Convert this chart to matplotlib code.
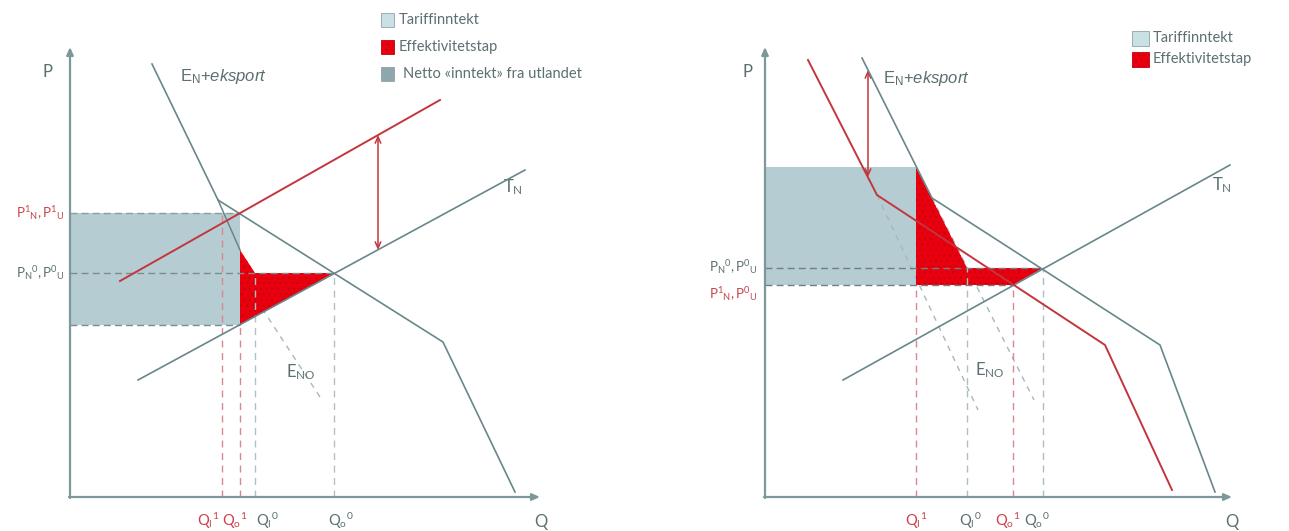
import matplotlib
matplotlib.use("Agg")
import matplotlib.pyplot as plt
from matplotlib.patches import Polygon, Rectangle

plt.rcParams['font.family'] = ['Lato', 'DejaVu Sans']
plt.rcParams['mathtext.fontset'] = 'custom'
plt.rcParams['mathtext.rm'] = 'Lato'
plt.rcParams['mathtext.it'] = 'Liberation Sans:italic'
plt.rcParams['mathtext.sf'] = 'Liberation Sans'
plt.rcParams['hatch.linewidth'] = 0.6

# --- left panel, Q and P (units from the axis corner) ---
L_en_q = [82, 148, 373, 445]
L_en_p = [433, 297, 155, 5]
L_eno_q = [148, 170]
L_eno_p = [297, 247]
L_eno_dash_q = [180, 250]
L_eno_dash_p = [207, 100]
L_red_q = [50, 370]
L_red_p = [216, 397]
L_tn_q = [68, 455]
L_tn_p = [117, 327]
L_box_q = [0, 170]
L_box_p = [172, 284]
L_loss_q = [170, 185, 264, 170]
L_loss_p = [247, 224, 224, 172]
L_p1, L_p0, L_pw = 284, 224, 172
L_qs = [152, 170, 185, 264]
L_qcol = ['r', 'r', 'g', 'g']
L_qtop = [284, 172, 224, 224]
L_qlab_x = [138, 165, 197, 271]
L_qlabels = [r'$\mathrm{Q_I{}^1}$', r'$\mathrm{Q_o{}^1}$', r'$\mathrm{Q_I{}^0}$', r'$\mathrm{Q_o{}^0}$']
L_arrow_q, L_arrow_p = 308, [362, 247]

# --- right panel ---
R_en_q = [97, 167, 395, 450]
R_en_p = [439, 299, 152, 5]
R_red_q = [43, 112, 340, 407]
R_red_p = [437, 302, 152, 7]
R_tn_q = [78, 465]
R_tn_p = [117, 332]
R_eno_dash = [([112, 213], [302, 87]), ([167, 269], [299, 97])]
R_box_q = [0, 151]
R_box_p = [212, 330]
R_loss_q = [151, 202, 278, 248, 151]
R_loss_p = [330, 229, 229, 212, 212]
R_p0, R_p1 = 229, 212
R_qs = [151, 202, 248, 278]
R_qcol = ['r', 'g', 'r', 'g']
R_qtop = [212, 229, 212, 229]
R_qlab_x = [151, 205, 243, 272]
R_qlabels = [r'$\mathrm{Q_I{}^1}$', r'$\mathrm{Q_I{}^0}$', r'$\mathrm{Q_o{}^1}$', r'$\mathrm{Q_o{}^0}$']
R_arrow_q, R_arrow_p = 103, [427, 320]

GRAY = '#68878a'
AXC = '#7e9798'
RED = '#c3363d'
BLUE = '#b5ccd2'
LOSS = '#e8000f'
HATCH = '#c4000f'
GTXT = '#5c6f71'
RTXT = '#c8414b'
DASH_G = '#8c9c9e'
DASH_R = '#d98890'

W, H = 1289, 531
fig = plt.figure(figsize=(W / 100, H / 100), dpi=100)

def panel(x0, x1, ox):
    ax = fig.add_axes([x0 / W, 0, (x1 - x0) / W, 1])
    ax.set_xlim(x0 - ox, x1 - ox)
    ax.set_ylim(497 - H, 497)
    ax.set_axis_off()
    return ax

def axes_arrows(ax, qmax, pmax):
    st = dict(arrowstyle='-|>,head_length=0.45,head_width=0.2', color=AXC, lw=1.6,
              shrinkA=0, shrinkB=0)
    ax.annotate('', xy=(0, pmax), xytext=(0, -1), arrowprops=st)
    ax.annotate('', xy=(qmax, 0), xytext=(-1, 0), arrowprops=st)

def dbl_arrow(ax, q, ps):
    ax.annotate('', xy=(q, ps[0]), xytext=(q, ps[1]),
                arrowprops=dict(arrowstyle='<->,head_length=0.45,head_width=0.2',
                                color=RED, lw=1.1, shrinkA=0, shrinkB=0))

# ---------------- left ----------------
ax = panel(0, 645, 70)
ax.add_patch(Rectangle((L_box_q[0], L_box_p[0]), L_box_q[1] - L_box_q[0],
                       L_box_p[1] - L_box_p[0], color=BLUE, lw=0, zorder=1))
ax.plot(L_eno_dash_q, L_eno_dash_p, ls=(0, (4, 4)), color='#a8b8ba', lw=1, zorder=1)
ax.add_patch(Polygon(list(zip(L_loss_q, L_loss_p)), closed=True, facecolor=LOSS,
                     hatch='...', edgecolor=HATCH, lw=0, zorder=2))
for p, q1, c in [(L_p1, L_box_q[1], DASH_G), (L_p0, L_loss_q[2], '#7d8c8e'),
                 (L_pw, L_box_q[1], '#7d8c8e')]:
    ax.plot([0, q1], [p, p], ls=(0, (5, 3)), color=c, lw=1, zorder=3)
for q, c, top in zip(L_qs, L_qcol, L_qtop):
    ax.plot([q, q], [0, top], ls=(0, (5, 4)), color=DASH_R if c == 'r' else '#b3c0c3',
            lw=1, zorder=3)
ax.plot(L_eno_q, L_eno_p, color=GRAY, lw=1.1, zorder=4)
ax.plot(L_en_q, L_en_p, color=GRAY, lw=1.2, zorder=4)
ax.plot(L_tn_q, L_tn_p, color=GRAY, lw=1.2, zorder=4)
ax.plot(L_red_q, L_red_p, color=RED, lw=1.4, zorder=5)
dbl_arrow(ax, L_arrow_q, L_arrow_p)
axes_arrows(ax, 470, 450)

ax.text(-22, 425, 'P', fontsize=12, color=GTXT, ha='center', va='center')
ax.text(471, -25, 'Q', fontsize=12, color=GTXT, ha='center', va='center')
ax.text(110, 420, r'E$_\mathsf{N}$+$\mathit{eksport}$', family='Liberation Sans',
        fontsize=12, color=GTXT, va='center')
ax.text(216, 125, r'$\mathrm{E_{NO}}$', fontsize=12, color=GTXT, va='center')
ax.text(433, 310, r'$\mathrm{T_N}$', fontsize=12, color=GTXT, va='center')
ax.text(-5, L_p1, r'$\mathrm{P^1{}_N, P^1{}_U}$', fontsize=9.5, color=RTXT,
        ha='right', va='center')
ax.text(-5, L_p0, r'$\mathrm{P_N{}^0, P^0{}_U}$', fontsize=9.5, color=GTXT,
        ha='right', va='center')
for x, s, c in zip(L_qlab_x, L_qlabels, L_qcol):
    ax.text(x, -24, s, fontsize=10.5, color=RTXT if c == 'r' else GTXT,
            ha='center', va='center')

# ---------------- right ----------------
ax = panel(645, W, 765)
ax.add_patch(Rectangle((R_box_q[0], R_box_p[0]), R_box_q[1] - R_box_q[0],
                       R_box_p[1] - R_box_p[0], color=BLUE, lw=0, zorder=1))
for dq, dp in R_eno_dash:
    ax.plot(dq, dp, ls=(0, (4, 4)), color='#a8b8ba', lw=1, zorder=1)
ax.add_patch(Polygon(list(zip(R_loss_q, R_loss_p)), closed=True, facecolor=LOSS,
                     hatch='...', edgecolor=HATCH, lw=0, zorder=2))
ax.plot([0, R_loss_q[2]], [R_p0, R_p0], ls=(0, (5, 3)), color='#6f8082', lw=1, zorder=3)
ax.plot([0, R_loss_q[3]], [R_p1, R_p1], ls=(0, (5, 3)), color='#6f8082', lw=1, zorder=3)
for q, c, top in zip(R_qs, R_qcol, R_qtop):
    ax.plot([q, q], [0, top], ls=(0, (5, 4)), color=DASH_R if c == 'r' else '#aebfc4',
            lw=1, zorder=3)
ax.plot(R_en_q, R_en_p, color=GRAY, lw=1.2, zorder=4)
ax.plot(R_tn_q, R_tn_p, color=GRAY, lw=1.2, zorder=4)
ax.plot(R_red_q, R_red_p, color=RED, lw=1.4, zorder=5)
dbl_arrow(ax, R_arrow_q, R_arrow_p)
axes_arrows(ax, 467, 450)

ax.text(-17, 425, 'P', fontsize=12, color=GTXT, ha='center', va='center')
ax.text(467, -25, 'Q', fontsize=12, color=GTXT, ha='center', va='center')
ax.text(118, 419, r'E$_\mathsf{N}$+$\mathit{eksport}$', family='Liberation Sans',
        fontsize=12, color=GTXT, va='center')
ax.text(210, 127, r'$\mathrm{E_{NO}}$', fontsize=12, color=GTXT, va='center')
ax.text(447, 312, r'$\mathrm{T_N}$', fontsize=12, color=GTXT, va='center')
ax.text(-7, 230, r'$\mathrm{P_N{}^0,P^0{}_U}$', fontsize=9.5, color=GTXT,
        ha='right', va='center')
ax.text(-7, 203, r'$\mathrm{P^1{}_N, P^0{}_U}$', fontsize=9.5, color=RTXT,
        ha='right', va='center')
for x, s, c in zip(R_qlab_x, R_qlabels, R_qcol):
    ax.text(x, -24, s, fontsize=10.5, color=RTXT if c == 'r' else GTXT,
            ha='center', va='center')

# ---------------- legends ----------------
def legend_item(x, y, w, h, face, hatch, label, tx):
    fig.add_artist(Rectangle((x / W, 1 - (y + h / 2) / H), w / W, h / H,
                             transform=fig.transFigure, facecolor=face, hatch=hatch,
                             edgecolor='#8fa3a6' if not hatch else HATCH, lw=0.6))
    fig.text(tx / W, 1 - y / H, label, fontsize=10.5, color=GTXT, va='center')

legend_item(381, 20, 13, 13, '#c9e0e5', None, 'Tariffinntekt', 399)
legend_item(381, 47, 13, 13, LOSS, '...', 'Effektivitetstap', 399)
legend_item(381, 74, 13, 13, '#8ea7ad', None, 'Netto «inntekt» fra utlandet', 403)
legend_item(1132, 38, 17, 15, '#c9e0e5', None, 'Tariffinntekt', 1153)
legend_item(1132, 59, 17, 15, LOSS, '...', 'Effektivitetstap', 1153)

fig.savefig('out.png', dpi=100)
